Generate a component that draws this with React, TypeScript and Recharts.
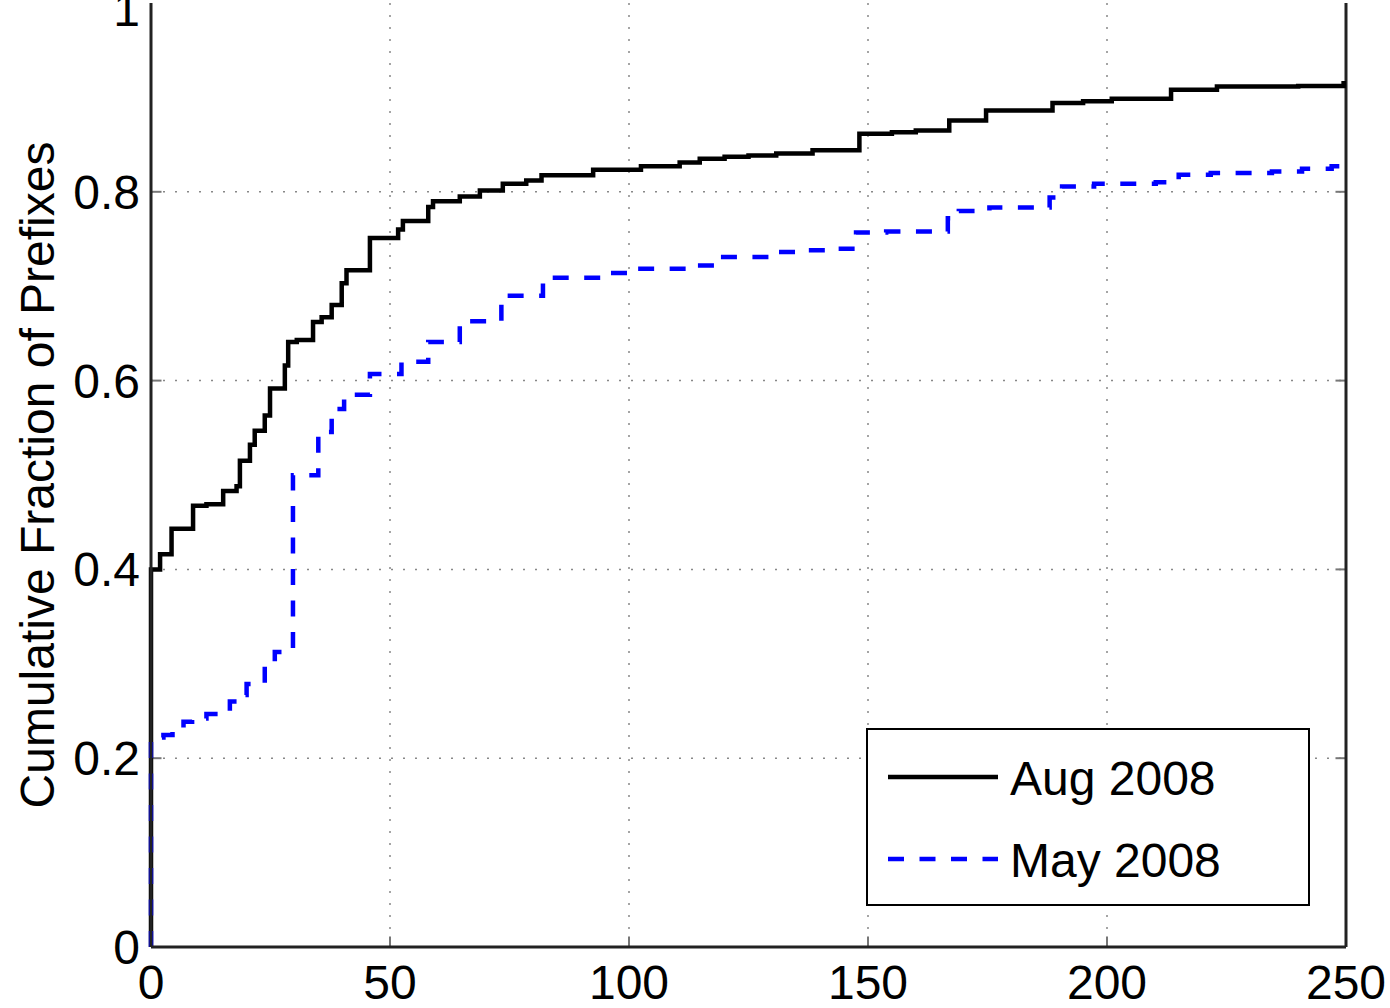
import React from 'react';
import { LineChart, Line, XAxis, YAxis, CartesianGrid, ReferenceLine, Legend } from 'recharts';

// [x, cumulative fraction] step points
const augSteps: [number, number][] = [
  [0, 0], [0, 0.4], [1.9, 0.416], [4.3, 0.443], [8.8, 0.4675], [11.6, 0.469], [15.1, 0.483],
  [17.9, 0.488], [18.6, 0.515], [20.7, 0.532], [21.7, 0.547], [23.8, 0.563], [24.9, 0.5915],
  [28.0, 0.616], [28.7, 0.641], [30.5, 0.643], [33.9, 0.662], [35.7, 0.667], [37.8, 0.68],
  [39.9, 0.703], [40.9, 0.717], [45.8, 0.751], [51.7, 0.76], [52.7, 0.769], [58.0, 0.784],
  [59.0, 0.79], [64.6, 0.795], [68.8, 0.8015], [73.6, 0.8085], [78.5, 0.812], [81.7, 0.8174],
  [92.5, 0.8234], [102.5, 0.827], [110.6, 0.831], [114.8, 0.835], [120, 0.837], [125, 0.8385],
  [130.8, 0.8405], [138.4, 0.844], [148.2, 0.8615], [155, 0.863], [160, 0.865], [167, 0.8756],
  [174.7, 0.886], [188.6, 0.894], [195, 0.896], [201, 0.8985], [213.4, 0.908], [223, 0.9116],
  [240, 0.912], [249.5, 0.915], [250, 0.915],
];

const maySteps: [number, number][] = [
  [0, 0], [0, 0.222], [2.6, 0.2245], [4.5, 0.23], [6.8, 0.2385], [8.6, 0.242], [11.6, 0.2467],
  [16.5, 0.26], [17.9, 0.267], [20.0, 0.2785], [23.8, 0.301], [25.9, 0.3125], [29.7, 0.4997],
  [35.0, 0.5456], [37.8, 0.57], [40.4, 0.58], [41.6, 0.585], [45.8, 0.607], [52.4, 0.62],
  [58.0, 0.641], [64.6, 0.663], [73.3, 0.69], [82.0, 0.709], [94.5, 0.714], [101.2, 0.7186],
  [113.3, 0.722], [118.0, 0.731], [130.8, 0.7362], [137.0, 0.738], [143.3, 0.7398], [147.5, 0.757],
  [153.8, 0.758], [166.7, 0.772], [169.0, 0.7796], [175.4, 0.7835], [188.0, 0.794], [190.6, 0.8057],
  [197.3, 0.8085], [210.2, 0.81], [215.0, 0.818], [221.7, 0.8198], [234.5, 0.8216], [240.8, 0.8245],
  [247.0, 0.827], [250, 0.828],
];

const seriesNames = ['Aug 2008', 'May 2008'];
const xTicks = [0, 50, 100, 150, 200, 250];
const yTicks = [0, 0.2, 0.4, 0.6, 0.8, 1];
const yTickLabels = ['0', '0.2', '0.4', '0.6', '0.8', '1'];
const xGrid = [50, 100, 150, 200];
const yGrid = [0.2, 0.4, 0.6, 0.8];
const yAxisTitle = 'Cumulative Fraction of Prefixes';

const FONT = '"Liberation Sans", Arial, Helvetica, sans-serif';

const toRows = (steps: [number, number][]) => steps.map(([x, y]) => ({ x, y }));
const augData = toRows(augSteps);
const mayData = toRows(maySteps);

function XTick(props: any) {
  const { x, y, payload } = props;
  return (
    <text x={x} y={y + 52} textAnchor="middle" fontSize={48} fontFamily={FONT} fill="#000">
      {payload.value}
    </text>
  );
}

function YTick(props: any) {
  const { x, y, payload } = props;
  const i = yTicks.indexOf(payload.value);
  return (
    <text x={x - 11} y={y + 17} textAnchor="end" fontSize={48} fontFamily={FONT} fill="#000">
      {i >= 0 ? yTickLabels[i] : payload.value}
    </text>
  );
}

function YTitle(props: any) {
  const vb = props.viewBox || { x: 0, y: 0, width: 151, height: 944 };
  const cx = vb.x + 54;
  const cy = vb.y + vb.height / 2;
  return (
    <text
      x={cx}
      y={cy}
      transform={`rotate(-90 ${cx} ${cy})`}
      textAnchor="middle"
      fontSize={48}
      fontFamily={FONT}
      fill="#000"
    >
      {yAxisTitle}
    </text>
  );
}

const dashes = [undefined, '16 15.5'];

function LegendBox(props: any) {
  const payload = props.payload || [];
  return (
    <div
      style={{
        width: 444,
        height: 178,
        boxSizing: 'border-box',
        border: '2px solid #000',
        background: '#fff',
      }}
    >
      <svg width={440} height={174} style={{ display: 'block' }}>
        {payload.map((e: any, i: number) => {
          const cy = 47 + i * 82;
          const dash = (e.payload && e.payload.strokeDasharray) || dashes[i];
          return (
            <g key={i}>
              <line x1={20} x2={130} y1={cy} y2={cy} stroke={e.color} strokeWidth={4.5} strokeDasharray={dash} />
              <text x={142} y={cy + 18} fontSize={48} fontFamily={FONT} fill="#000">
                {e.value}
              </text>
            </g>
          );
        })}
      </svg>
    </div>
  );
}

export default function App() {
  return (
    <div style={{ position: 'absolute', left: 0, top: 0, width: 1390, height: 1008, background: '#fff' }}>
      <LineChart width={1390} height={1008} margin={{ top: 3, right: 44, bottom: 0, left: 0 }}>
        <CartesianGrid
          stroke="#888"
          strokeWidth={1.5}
          strokeDasharray="2 10"
          horizontalValues={yGrid}
          verticalValues={xGrid}
        />
        <XAxis
          type="number"
          dataKey="x"
          domain={[0, 250]}
          ticks={xTicks}
          height={61}
          tickSize={0}
          tickMargin={0}
          tickLine={false}
          axisLine={{ stroke: '#222', strokeWidth: 3 }}
          tick={<XTick />}
          allowDuplicatedCategory={false}
        />
        <YAxis
          type="number"
          domain={[0, 1]}
          ticks={yTicks}
          width={151}
          tickSize={0}
          tickMargin={0}
          tickLine={false}
          axisLine={{ stroke: '#222', strokeWidth: 3 }}
          tick={<YTick />}
          label={<YTitle />}
        />
        {yGrid.map((v) => (
          <ReferenceLine key={'l' + v} segment={[{ x: 0, y: v }, { x: 2.2, y: v }]} stroke="#777" strokeWidth={2} />
        ))}
        {yGrid.map((v) => (
          <ReferenceLine key={'r' + v} segment={[{ x: 247.8, y: v }, { x: 250, y: v }]} stroke="#777" strokeWidth={2} />
        ))}
        {xGrid.map((v) => (
          <ReferenceLine key={'b' + v} segment={[{ x: v, y: 0 }, { x: v, y: 0.011 }]} stroke="#777" strokeWidth={2} />
        ))}
        <ReferenceLine x={250} stroke="#222" strokeWidth={3} />
        <Line
          data={augData}
          dataKey="y"
          name={seriesNames[0]}
          type="stepAfter"
          stroke="#000"
          strokeWidth={4.5}
          dot={false}
          activeDot={false}
          isAnimationActive={false}
        />
        <Line
          data={mayData}
          dataKey="y"
          name={seriesNames[1]}
          type="stepAfter"
          stroke="#0000ff"
          strokeWidth={4.5}
          strokeDasharray="16 15.5"
          dot={false}
          activeDot={false}
          isAnimationActive={false}
        />
        <Legend
          layout="vertical"
          align="center"
          verticalAlign="middle"
          wrapperStyle={{ left: 866, top: 728, width: 444, height: 178 }}
          content={<LegendBox />}
        />
      </LineChart>
    </div>
  );
}
